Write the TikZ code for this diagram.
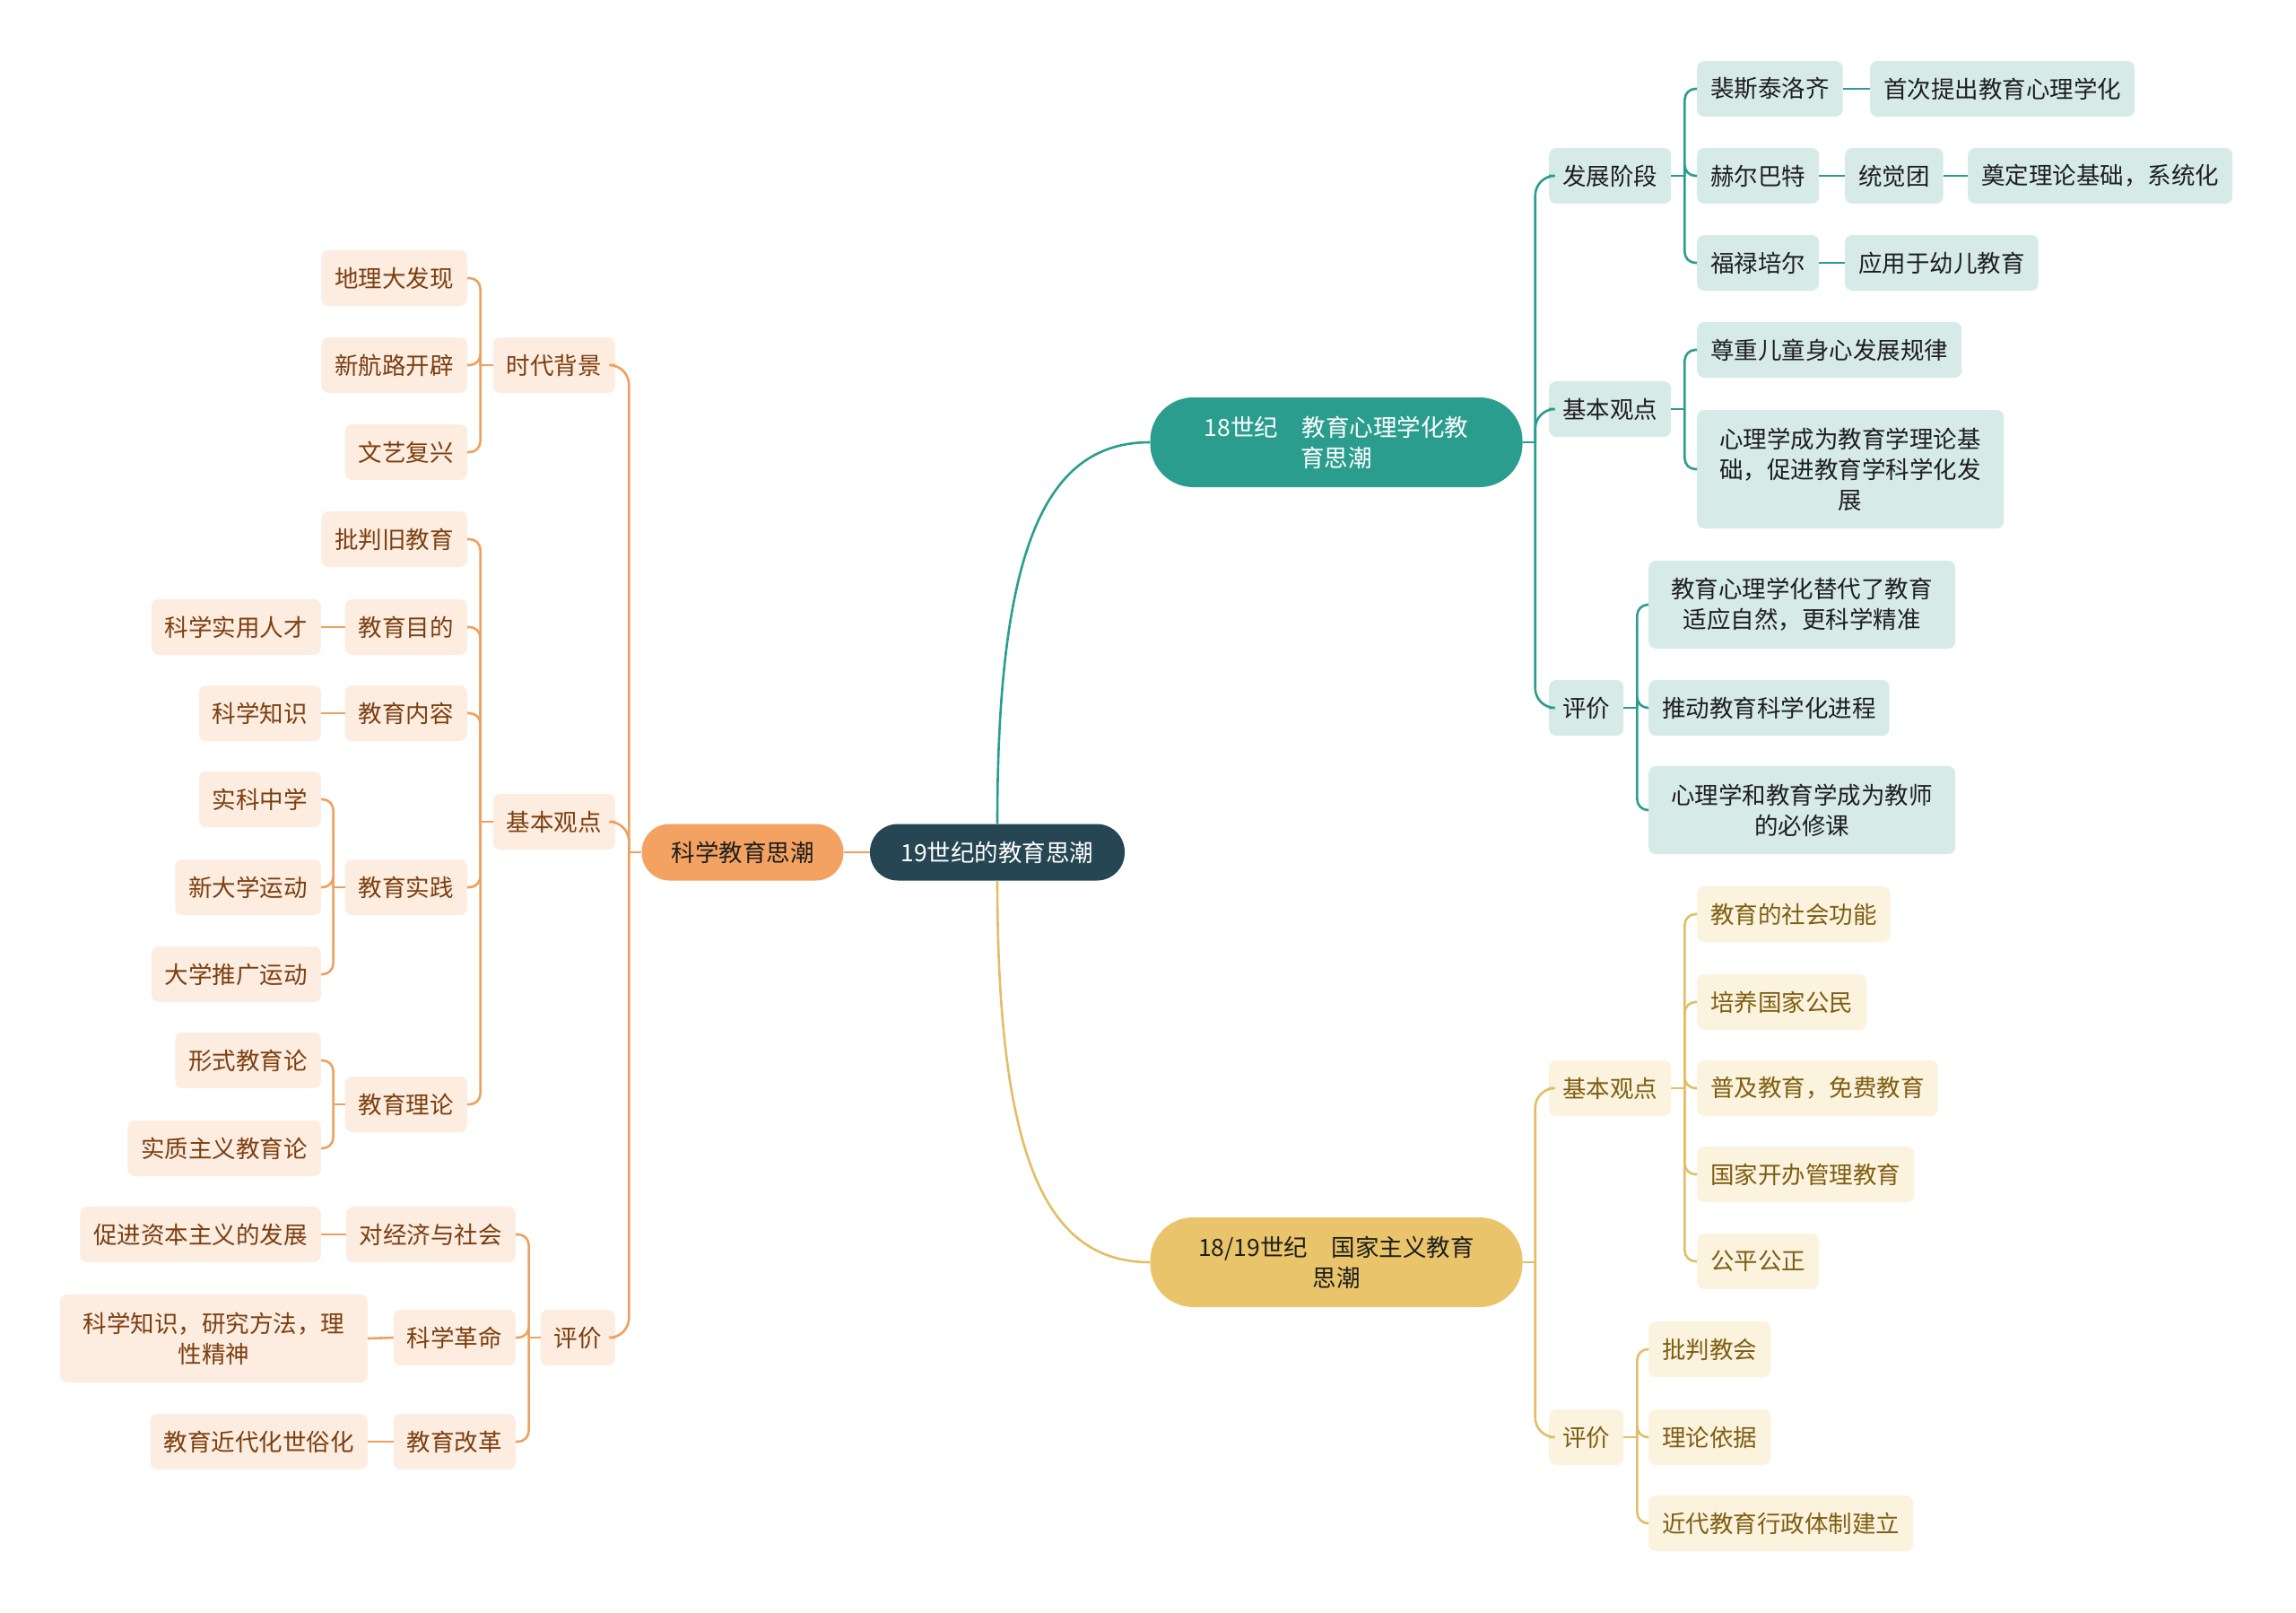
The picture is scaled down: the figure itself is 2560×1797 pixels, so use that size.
\documentclass[tikz,border=0pt]{standalone}
\usepackage{fontspec}
\setmainfont{Noto Sans CJK SC}
\newcommand\myfs{\fontsize{26.5pt}{34pt}\selectfont}
\definecolor{rootC}{HTML}{264653}
\definecolor{tealC}{HTML}{2A9D8F}
\definecolor{yelC}{HTML}{E9C46A}
\definecolor{oraC}{HTML}{F4A261}
\definecolor{tealL}{HTML}{D6EBE8}
\definecolor{yelL}{HTML}{FCF3DF}
\definecolor{oraL}{HTML}{FDECE0}
\definecolor{tealT}{HTML}{1E1E1E}
\definecolor{yelT}{HTML}{7E5E12}
\definecolor{oraT}{HTML}{7B3F10}
\definecolor{yelLine}{HTML}{E3BE66}
\definecolor{oraLine}{HTML}{F0A05E}
\tikzset{
  base/.style={rounded corners=8pt, minimum height=62pt, inner xsep=15pt, inner ysep=0pt, font=\myfs},
  tsub/.style={base, fill=tealL, text=tealT},
  ysub/.style={base, fill=yelL, text=yelT},
  osub/.style={base, fill=oraL, text=oraT},
  tline/.style={draw=tealC, line width=2.6pt},
  yline/.style={draw=yelLine, line width=2.6pt},
  oline/.style={draw=oraLine, line width=2.6pt},
  rc/.style={rounded corners=12pt},
  rcbig/.style={rounded corners=22pt},
}
\begin{document}
\begin{tikzpicture}[x=1pt,y=-1pt]
\useasboundingbox[fill=white] (0,0) rectangle (2560,1797);

% main nodes
\node[fill=rootC, text=white, font=\myfs, rounded corners=31pt, minimum width=284pt, minimum height=63pt, inner sep=0pt] (root) at (1112,950) {19世纪的教育思潮};
\node[fill=oraC, text=tealT, font=\myfs, rounded corners=31pt, minimum width=225pt, minimum height=63pt, inner sep=0pt] (sci) at (828,950) {科学教育思潮};
\node[fill=tealC, text=white, font=\myfs, rounded corners=48pt, minimum width=415pt, minimum height=100pt, inner sep=0pt, align=center] (t18) at (1490,493) {18世纪　教育心理学化教\\育思潮};
\node[fill=yelC, text=tealT, font=\myfs, rounded corners=48pt, minimum width=415pt, minimum height=100pt, inner sep=0pt, align=center] (y18) at (1490,1407) {18/19世纪　国家主义教育\\思潮};

% teal branch
\node[tsub, anchor=west] (tA) at (1727,196) {发展阶段};
\node[tsub, anchor=west] (tA1) at (1892,99) {裴斯泰洛齐};
\node[tsub, anchor=west] (tA1a) at (2085,99) {首次提出教育心理学化};
\node[tsub, anchor=west] (tA2) at (1892,196) {赫尔巴特};
\node[tsub, anchor=west] (tA2a) at (2057,196) {统觉团};
\node[tsub, anchor=west] (tA2b) at (2194,196) {奠定理论基础，系统化};
\node[tsub, anchor=west] (tA3) at (1892,293) {福禄培尔};
\node[tsub, anchor=west] (tA3a) at (2057,293) {应用于幼儿教育};
\node[tsub, anchor=west] (tB) at (1727,456) {基本观点};
\node[tsub, anchor=west] (tB1) at (1892,390) {尊重儿童身心发展规律};
\node[tsub, anchor=west, text width=312pt, align=center, minimum height=132pt] (tB2) at (1892,523) {心理学成为教育学理论基\\础，促进教育学科学化发\\展};
\node[tsub, anchor=west] (tC) at (1727,789) {评价};
\node[tsub, anchor=west, text width=312pt, align=center, minimum height=98pt] (tC1) at (1838,674) {教育心理学化替代了教育\\适应自然，更科学精准};
\node[tsub, anchor=west] (tC2) at (1838,789) {推动教育科学化进程};
\node[tsub, anchor=west, text width=312pt, align=center, minimum height=98pt] (tC3) at (1838,903) {心理学和教育学成为教师\\的必修课};

% yellow branch
\node[ysub, anchor=west] (yA) at (1727,1213) {基本观点};
\node[ysub, anchor=west] (yA1) at (1892,1019) {教育的社会功能};
\node[ysub, anchor=west] (yA2) at (1892,1117) {培养国家公民};
\node[ysub, anchor=west] (yA3) at (1892,1213) {普及教育，免费教育};
\node[ysub, anchor=west] (yA4) at (1892,1309) {国家开办管理教育};
\node[ysub, anchor=west] (yA5) at (1892,1406) {公平公正};
\node[ysub, anchor=west] (yB) at (1727,1602) {评价};
\node[ysub, anchor=west] (yB1) at (1838,1504) {批判教会};
\node[ysub, anchor=west] (yB2) at (1838,1602) {理论依据};
\node[ysub, anchor=west] (yB3) at (1838,1698) {近代教育行政体制建立};

% orange branch
\node[osub, anchor=east] (oA) at (686,407) {时代背景};
\node[osub, anchor=east] (oA1) at (521,310) {地理大发现};
\node[osub, anchor=east] (oA2) at (521,407) {新航路开辟};
\node[osub, anchor=east] (oA3) at (521,504) {文艺复兴};
\node[osub, anchor=east] (oB) at (686,916) {基本观点};
\node[osub, anchor=east] (oB1) at (521,601) {批判旧教育};
\node[osub, anchor=east] (oB2) at (521,699) {教育目的};
\node[osub, anchor=east] (oB2a) at (358,699) {科学实用人才};
\node[osub, anchor=east] (oB3) at (521,795) {教育内容};
\node[osub, anchor=east] (oB3a) at (358,795) {科学知识};
\node[osub, anchor=east] (oB4) at (521,989) {教育实践};
\node[osub, anchor=east] (oB4a) at (358,891) {实科中学};
\node[osub, anchor=east] (oB4b) at (358,989) {新大学运动};
\node[osub, anchor=east] (oB4c) at (358,1086) {大学推广运动};
\node[osub, anchor=east] (oB5) at (521,1231) {教育理论};
\node[osub, anchor=east] (oB5a) at (358,1182) {形式教育论};
\node[osub, anchor=east] (oB5b) at (358,1280) {实质主义教育论};
\node[osub, anchor=east] (oC) at (686,1491) {评价};
\node[osub, anchor=east] (oC1) at (575,1376) {对经济与社会};
\node[osub, anchor=east] (oC1a) at (358,1376) {促进资本主义的发展};
\node[osub, anchor=east] (oC2) at (575,1491) {科学革命};
\node[osub, anchor=east, text width=313pt, align=center, minimum height=98pt] (oC2a) at (410,1492) {科学知识，研究方法，理\\性精神};
\node[osub, anchor=east] (oC3) at (575,1607) {教育改革};
\node[osub, anchor=east] (oC3a) at (410,1607) {教育近代化世俗化};

% root connectors
\draw[oline] (sci.east) -- (root.west);
\draw[tline] (root.north) .. controls (1112,600) and (1170,493) .. (t18.west);
\draw[yline] (root.south) .. controls (1112,1300) and (1170,1407) .. (y18.west);

% teal level 2
\draw[tline] (t18.east) -- ++(14,0);
\foreach \c in {tA,tB,tC} \draw[tline, rcbig] ([xshift=14pt]t18.east) |- (\c.west);
\draw[tline] (tA.east) -- ++(15,0);
\foreach \c in {tA1,tA2,tA3} \draw[tline, rc] ([xshift=15pt]tA.east) |- (\c.west);
\draw[tline] (tA1.east) -- (tA1a.west);
\draw[tline] (tA2.east) -- (tA2a.west);
\draw[tline] (tA2a.east) -- (tA2b.west);
\draw[tline] (tA3.east) -- (tA3a.west);
\draw[tline] (tB.east) -- ++(15,0);
\foreach \c in {tB1,tB2} \draw[tline, rc] ([xshift=15pt]tB.east) |- (\c.west);
\draw[tline] (tC.east) -- ++(15,0);
\foreach \c in {tC1,tC2,tC3} \draw[tline, rc] ([xshift=15pt]tC.east) |- (\c.west);

% yellow level 2
\draw[yline] (y18.east) -- ++(14,0);
\foreach \c in {yA,yB} \draw[yline, rcbig] ([xshift=14pt]y18.east) |- (\c.west);
\draw[yline] (yA.east) -- ++(15,0);
\foreach \c in {yA1,yA2,yA3,yA4,yA5} \draw[yline, rc] ([xshift=15pt]yA.east) |- (\c.west);
\draw[yline] (yB.east) -- ++(15,0);
\foreach \c in {yB1,yB2,yB3} \draw[yline, rc] ([xshift=15pt]yB.east) |- (\c.west);

% orange level 2
\draw[oline] (sci.west) -- ++(-14,0);
\foreach \c in {oA,oB,oC} \draw[oline, rcbig] ([xshift=-14pt]sci.west) |- (\c.east);
\draw[oline] (oA.west) -- ++(-14,0);
\foreach \c in {oA1,oA2,oA3} \draw[oline, rc] ([xshift=-14pt]oA.west) |- (\c.east);
\draw[oline] (oB.west) -- ++(-14,0);
\foreach \c in {oB1,oB2,oB3,oB4,oB5} \draw[oline, rc] ([xshift=-14pt]oB.west) |- (\c.east);
\draw[oline] (oB2.west) -- (oB2a.east);
\draw[oline] (oB3.west) -- (oB3a.east);
\draw[oline] (oB4.west) -- ++(-13,0);
\foreach \c in {oB4a,oB4b,oB4c} \draw[oline, rc] ([xshift=-13pt]oB4.west) |- (\c.east);
\draw[oline] (oB5.west) -- ++(-13,0);
\foreach \c in {oB5a,oB5b} \draw[oline, rc] ([xshift=-13pt]oB5.west) |- (\c.east);
\draw[oline] (oC.west) -- ++(-13,0);
\foreach \c in {oC1,oC2,oC3} \draw[oline, rc] ([xshift=-13pt]oC.west) |- (\c.east);
\draw[oline] (oC1.west) -- (oC1a.east);
\draw[oline] (oC2.west) -- (oC2a.east);
\draw[oline] (oC3.west) -- (oC3a.east);
\end{tikzpicture}
\end{document}
